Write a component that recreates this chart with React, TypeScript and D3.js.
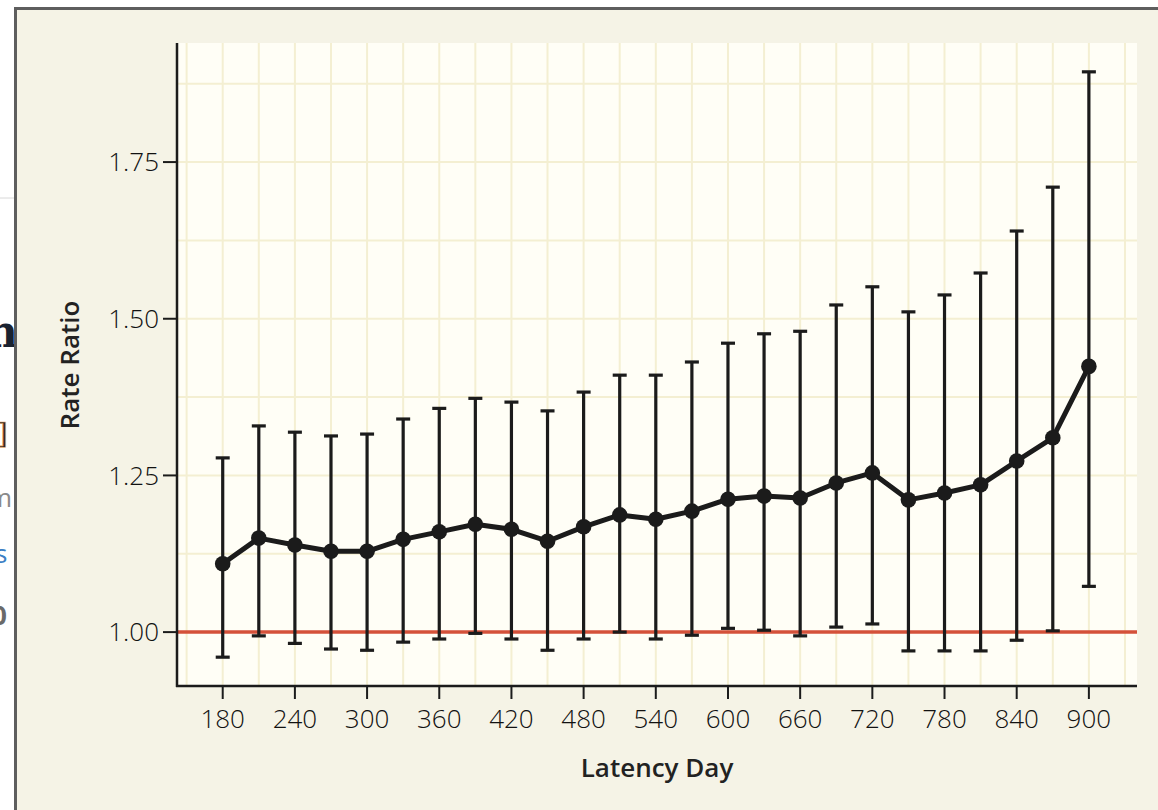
import React from 'react';
import * as d3 from 'd3';

// latency day of each estimate
const latencyDays = [180, 210, 240, 270, 300, 330, 360, 390, 420, 450, 480, 510, 540, 570, 600, 630, 660, 690, 720, 750, 780, 810, 840, 870, 900];
const rateRatio = [1.109, 1.15, 1.139, 1.129, 1.129, 1.148, 1.16, 1.172, 1.164, 1.145, 1.168, 1.187, 1.18, 1.193, 1.212, 1.217, 1.214, 1.238, 1.254, 1.211, 1.222, 1.235, 1.273, 1.31, 1.424];
const upperCI = [1.278, 1.329, 1.319, 1.313, 1.316, 1.34, 1.357, 1.373, 1.367, 1.353, 1.383, 1.41, 1.41, 1.431, 1.461, 1.476, 1.48, 1.522, 1.551, 1.511, 1.538, 1.573, 1.64, 1.71, 1.894];
const lowerCI = [0.96, 0.994, 0.982, 0.973, 0.971, 0.984, 0.989, 0.998, 0.989, 0.971, 0.989, 1.0, 0.989, 0.995, 1.006, 1.003, 0.994, 1.008, 1.013, 0.97, 0.97, 0.97, 0.987, 1.002, 1.073];

const xTicks = [180, 240, 300, 360, 420, 480, 540, 600, 660, 720, 780, 840, 900];
const yTicks = [1.0, 1.25, 1.5, 1.75];
const xGrid = d3.range(150, 931, 30);
const yGrid = [1.0, 1.125, 1.25, 1.375, 1.5, 1.625, 1.75, 1.875];

const W = 1158;
const H = 810;
const plot = { left: 177, right: 1137, top: 43, bottom: 686 };

const tickFont = "'Open Sans', sans-serif";

export default function App() {
  const x = d3.scaleLinear().domain([142, 940]).range([plot.left, plot.right]);
  const y = d3.scaleLinear().domain([0.914, 1.94]).range([plot.bottom, plot.top]);

  const points = latencyDays.map((d, i) => ({ d, v: rateRatio[i], lo: lowerCI[i], hi: upperCI[i] }));
  const line = d3.line<{ d: number; v: number }>().x(p => x(p.d)).y(p => y(p.v));
  const ink = '#1b1b1b';
  const capW = 7;

  return (
    <div style={{ position: 'fixed', left: 0, top: 0 }}>
      <svg width={W} height={H} style={{ display: 'block' }}>
        {/* page behind the figure */}
        <rect x={0} y={0} width={W} height={H} fill="#ffffff" />
        <line x1={0} x2={14} y1={198} y2={198} stroke="#d8d8d8" strokeWidth={1} />
        <text x={-14} y={347} fontFamily="'DejaVu Serif', serif" fontWeight={700} fontSize={44} fill="#1a2230">n</text>
        <text x={-3} y={443} fontFamily="'DejaVu Serif', serif" fontSize={28} fill="#2a2a2a" stroke="#e8a050" strokeWidth={0.6}>]</text>
        <text x={-12} y={507} fontFamily="'Open Sans', sans-serif" fontSize={26} fill="#8a8a8a">m</text>
        <text x={-5} y={563} fontFamily="'Open Sans', sans-serif" fontSize={26} fill="#3d7fc4">s</text>
        <text x={-8} y={625} fontFamily="'Open Sans', sans-serif" fontWeight={700} fontSize={26} fill="#6a6a6a">0</text>

        {/* figure panel */}
        <rect x={14} y={7} width={W - 14} height={H - 7} fill="#f5f3e6" />
        <line x1={15.5} x2={15.5} y1={7} y2={H} stroke="#5e5e5e" strokeWidth={3} />
        <line x1={14} x2={W} y1={8.5} y2={8.5} stroke="#5e5e5e" strokeWidth={3} />

        {/* plot area */}
        <rect x={plot.left} y={plot.top} width={plot.right - plot.left} height={plot.bottom - plot.top} fill="#fffef6" />
        {xGrid.map(g => (
          <line key={'xg' + g} x1={x(g)} x2={x(g)} y1={plot.top} y2={plot.bottom} stroke="#f4efd2" strokeWidth={2} />
        ))}
        {yGrid.map(g => (
          <line key={'yg' + g} x1={plot.left} x2={plot.right} y1={y(g)} y2={y(g)} stroke="#f4efd2" strokeWidth={2} />
        ))}

        {/* reference line */}
        <line x1={plot.left} x2={plot.right} y1={y(1)} y2={y(1)} stroke="#d4513a" strokeWidth={3.5} />

        {/* error bars */}
        {points.map(p => (
          <g key={'eb' + p.d} stroke={ink} strokeWidth={3.2}>
            <line x1={x(p.d)} x2={x(p.d)} y1={y(p.hi)} y2={y(p.lo)} />
            <line x1={x(p.d) - capW} x2={x(p.d) + capW} y1={y(p.hi)} y2={y(p.hi)} />
            <line x1={x(p.d) - capW} x2={x(p.d) + capW} y1={y(p.lo)} y2={y(p.lo)} />
          </g>
        ))}

        {/* estimate line */}
        <path d={line(points) || ''} fill="none" stroke={ink} strokeWidth={5} strokeLinejoin="round" />
        {points.map(p => (
          <circle key={'pt' + p.d} cx={x(p.d)} cy={y(p.v)} r={7.8} fill={ink} />
        ))}

        {/* axes */}
        <line x1={plot.left} x2={plot.left} y1={plot.top} y2={plot.bottom + 1} stroke={ink} strokeWidth={2.5} />
        <line x1={plot.left - 1} x2={plot.right} y1={plot.bottom} y2={plot.bottom} stroke={ink} strokeWidth={2.5} />

        {yTicks.map(t => (
          <g key={'yt' + t}>
            <line x1={plot.left - 14} x2={plot.left} y1={y(t)} y2={y(t)} stroke={ink} strokeWidth={2} />
            <text x={plot.left - 18} y={y(t)} dy="0.36em" textAnchor="end" fontFamily={tickFont} fontWeight={300} fontSize={26} fill="#111">
              {d3.format('.2f')(t)}
            </text>
          </g>
        ))}

        {xTicks.map(t => (
          <g key={'xt' + t}>
            <line x1={x(t)} x2={x(t)} y1={plot.bottom} y2={plot.bottom + 13} stroke={ink} strokeWidth={2} />
            <text x={x(t)} y={728} textAnchor="middle" fontFamily={tickFont} fontWeight={300} fontSize={26} fill="#111">
              {t}
            </text>
          </g>
        ))}

        <text x={(plot.left + plot.right) / 2} y={777} textAnchor="middle" fontFamily={tickFont} fontWeight={600} fontSize={26} fill="#222">
          Latency Day
        </text>
        <text transform="translate(79,365) rotate(-90)" textAnchor="middle" fontFamily={tickFont} fontWeight={600} fontSize={26} fill="#222">
          Rate Ratio
        </text>
      </svg>
    </div>
  );
}
